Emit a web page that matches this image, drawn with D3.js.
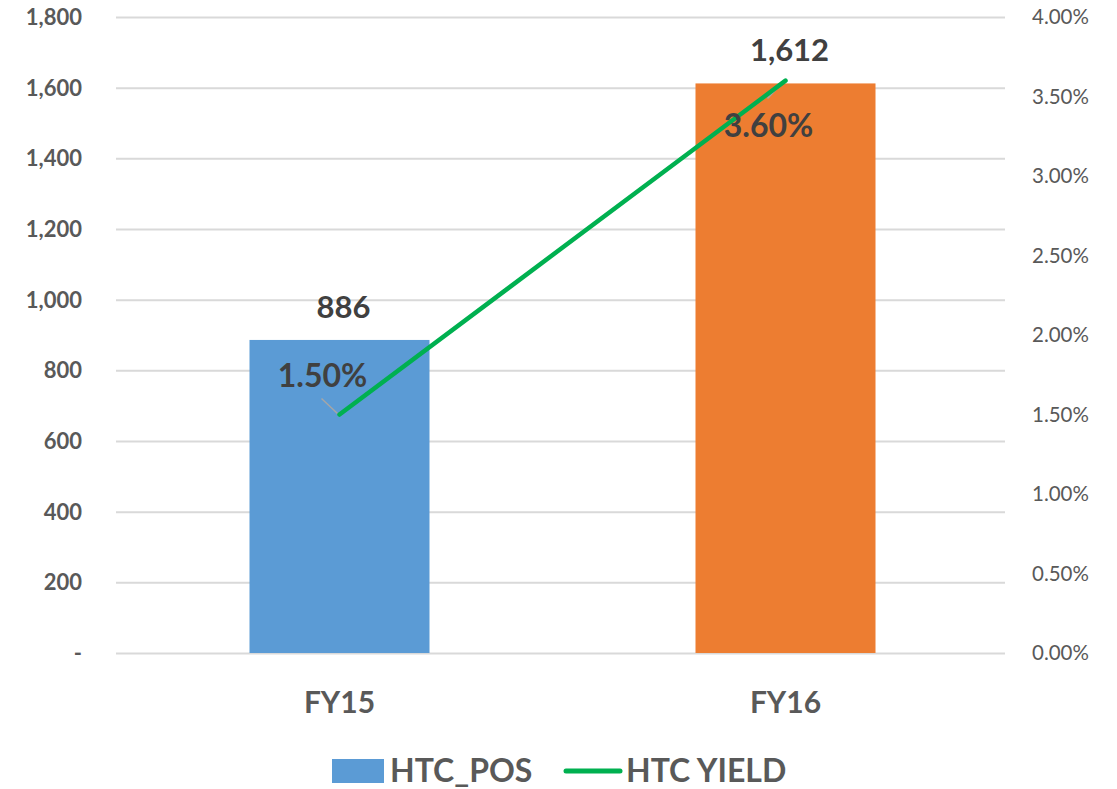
<!DOCTYPE html>
<html>
<head>
<meta charset="utf-8">
<script src="https://cdn.jsdelivr.net/npm/d3@7"></script>
<style>
  body { margin: 0; background: #fff; }
  text { font-family: Lato, "Open Sans", sans-serif; fill: #595959; }
</style>
</head>
<body>
<svg id="chart" width="1117" height="789"></svg>
<script>
const categories = ["FY15", "FY16"];
const posValues = [886, 1612];
const yieldValues = [0.015, 0.036];
const barColors = ["#5b9bd5", "#ed7d31"];
const leftTicks = [0, 200, 400, 600, 800, 1000, 1200, 1400, 1600, 1800];
const rightTicks = [0, 0.005, 0.01, 0.015, 0.02, 0.025, 0.03, 0.035, 0.04];

const svg = d3.select("#chart");
const margin = { left: 116, right: 1005, top: 17, bottom: 653 };

const xPoint = d3.scalePoint().domain(categories).range([116.5, 1008.5]).padding(0.5);
const y = d3.scaleLinear().domain([0, 1800]).range([margin.bottom, margin.top]);
const y2 = d3.scaleLinear().domain([0, 0.04]).range([margin.bottom, margin.top]);

const fmt = d3.format(",");
const pct = d3.format(".2%");

// gridlines
svg.append("g")
  .selectAll("line")
  .data(leftTicks)
  .join("line")
  .attr("x1", margin.left).attr("x2", margin.right)
  .attr("y1", d => y(d) + 0.5).attr("y2", d => y(d) + 0.5)
  .attr("stroke", "#d9d9d9").attr("stroke-width", 2);

// left axis labels
svg.append("g")
  .selectAll("text")
  .data(leftTicks)
  .join("text")
  .attr("x", 82).attr("y", d => y(d))
  .attr("dy", "0.36em")
  .attr("text-anchor", "end")
  .style("font-size", "22px").style("font-weight", "bold")
  .text(d => d === 0 ? "-" : fmt(d));

// right axis labels
svg.append("g")
  .selectAll("text")
  .data(rightTicks)
  .join("text")
  .attr("x", 1032).attr("y", d => y2(d))
  .attr("dy", "0.36em")
  .style("font-size", "20.5px")
  .text(d => pct(d));

// bars
const bw = 180;
svg.append("g")
  .selectAll("rect")
  .data(categories)
  .join("rect")
  .attr("x", (d) => xPoint(d) - bw / 2)
  .attr("width", bw)
  .attr("y", (d, i) => y(posValues[i]))
  .attr("height", (d, i) => y(0) - y(posValues[i]))
  .attr("fill", (d, i) => barColors[i]);

// bar labels
svg.append("g")
  .selectAll("text")
  .data(categories)
  .join("text")
  .attr("x", d => xPoint(d) + 4)
  .attr("y", (d, i) => y(posValues[i]) - 22)
  .attr("text-anchor", "middle")
  .style("font-size", "31px").style("font-weight", "bold").style("fill", "#404040")
  .text((d, i) => fmt(posValues[i]));

// leader lines
svg.append("g")
  .selectAll("line")
  .data(categories)
  .join("line")
  .attr("x1", d => xPoint(d) - 1)
  .attr("y1", (d, i) => y2(yieldValues[i]))
  .attr("x2", (d, i) => xPoint(d) - 18)
  .attr("y2", (d, i) => y2(yieldValues[i]) + (i === 0 ? -16 : 18))
  .attr("stroke", "#a6a6a6").attr("stroke-width", 1.5);

// line
svg.append("path")
  .datum(categories)
  .attr("fill", "none")
  .attr("stroke", "#00b050")
  .attr("stroke-width", 4.5)
  .attr("stroke-linecap", "round")
  .attr("d", d3.line().x(d => xPoint(d)).y((d, i) => y2(yieldValues[i])));

// line labels
svg.append("g")
  .selectAll("text")
  .data(categories)
  .join("text")
  .attr("x", d => xPoint(d) - 17)
  .attr("y", (d, i) => y2(yieldValues[i]) + (i === 0 ? -28 : 56))
  .attr("text-anchor", "middle")
  .style("font-size", "32px").style("font-weight", "bold").style("fill", "#404040")
  .text((d, i) => pct(yieldValues[i]));

// category labels
svg.append("g")
  .selectAll("text")
  .data(categories)
  .join("text")
  .attr("x", d => xPoint(d))
  .attr("y", 713)
  .attr("text-anchor", "middle")
  .style("font-size", "30px").style("font-weight", "bold")
  .text(d => d);

// legend
const legend = svg.append("g");
legend.append("rect").attr("x", 332).attr("y", 759).attr("width", 52).attr("height", 24).attr("fill", barColors[0]);
legend.append("text").attr("x", 390).attr("y", 782).style("font-size", "32px").style("font-weight", "bold").text("HTC_POS");
legend.append("line").attr("x1", 566).attr("x2", 620).attr("y1", 771).attr("y2", 771)
  .attr("stroke", "#00b050").attr("stroke-width", 5).attr("stroke-linecap", "round");
legend.append("text").attr("x", 626).attr("y", 782).style("font-size", "32px").style("font-weight", "bold").text("HTC YIELD");
</script>
</body>
</html>
